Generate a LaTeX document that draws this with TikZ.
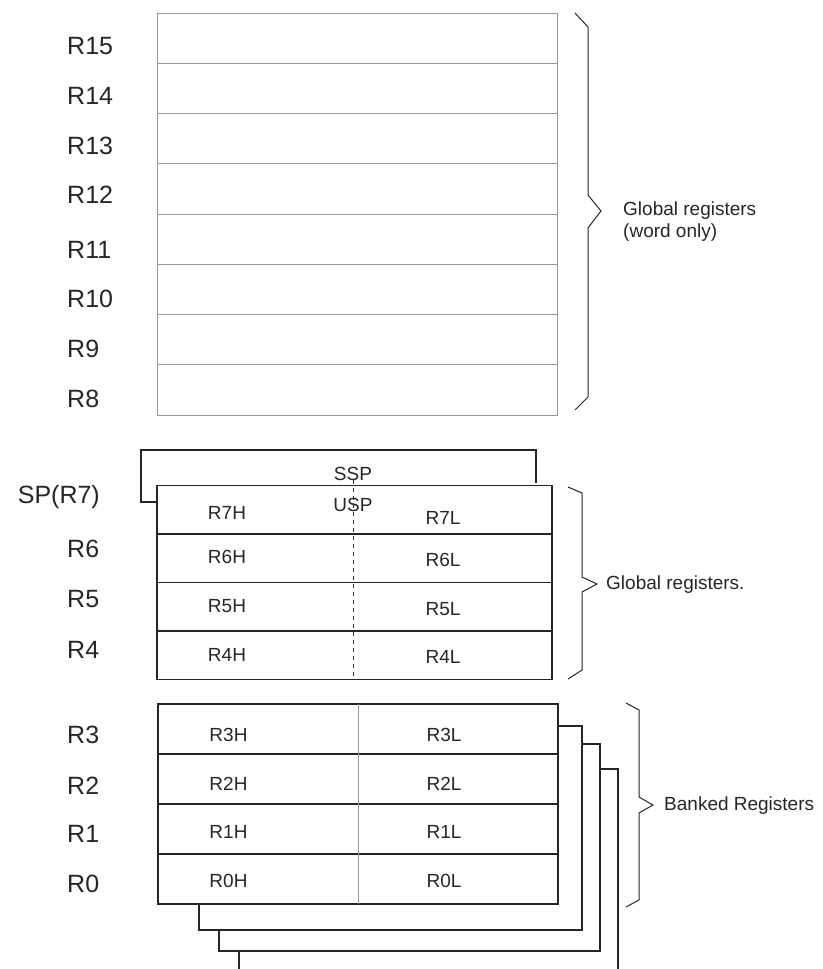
\documentclass[tikz,border=0pt]{standalone}
\usepackage{fontspec}
\setmainfont{Liberation Sans}
\begin{document}
\begin{tikzpicture}[x=1pt,y=-1pt,
  grayrow/.style={draw=black!40,line width=1pt,minimum width=400pt,minimum height=50.25pt,inner sep=0pt,outer sep=0pt},
  blkrow/.style={draw=black!85,line width=1.1pt,minimum width=395pt,minimum height=48.5pt,inner sep=0pt,outer sep=0pt},
  bnkrow/.style={draw=black!85,line width=1.1pt,minimum width=400pt,minimum height=50pt,inner sep=0pt,outer sep=0pt},
  reglbl/.style={anchor=west,inner sep=0pt,font=\fontsize{25}{28}\selectfont,text=black!85},
  celltxt/.style={inner sep=0pt,font=\fontsize{19}{22}\selectfont,text=black!85},
  bracetxt/.style={anchor=west,inner sep=0pt,align=left,font=\fontsize{19}{22}\selectfont,text=black!85},
  bracepath/.style={draw=black!85,line width=1pt},
  stackline/.style={draw=black!85,line width=1.1pt}]
\useasboundingbox (0,0) rectangle (822,969);
\clip (0,0) rectangle (822,969);
\fill[white] (0,0) rectangle (822,969);

% ---- top block R15..R8
\foreach \n [count=\i from 0] in {15,14,13,12,11,10,9,8}{
  \node[grayrow] (t\n) at (357.5,{13+50.25*\i+25.125}) {};
}
\node[reglbl] (l15) at (67,46) {R15};
\node[reglbl] (l14) at (67,96) {R14};
\node[reglbl] (l13) at (67,146) {R13};
\node[reglbl] (l12) at (67,195) {R12};
\node[reglbl] (l11) at (67,250) {R11};
\node[reglbl] (l10) at (67,299) {R10};
\node[reglbl] (l9) at (67,349) {R9};
\node[reglbl] (l8) at (67,399) {R8};

\path[bracepath] (575,13) -- (588,27) -- (588,195) -- (601,211) -- (588,228) -- (588,397) -- (575,410);
\node[bracetxt] (gw) at (623,222) {Global registers\\(word only)};

% ---- middle block R7..R4
\node[blkrow] (m7) at (354.5,509.75) {};
\node[blkrow] (m6) at (354.5,558.25) {};
\node[blkrow] (m5) at (354.5,606.75) {};
\node[blkrow] (m4) at (354.5,655.25) {};
\coordinate (sspL) at (141,450);
\coordinate (sspR) at (536,450);
\path[stackline] (m7.north west |- 0,502) -- (sspL |- 0,502) -- (sspL) -- (sspR) -- (sspR |- 0,483);
\node[celltxt] (ssp) at (353,473.5) {SSP};
\node[celltxt] (usp) at (353,504.5) {USP};
\coordinate (dtop) at (353,480);
\draw[black!85,line width=1pt,dash pattern=on 4pt off 4pt] (dtop) -- (dtop |- m4.south);

\node[celltxt] (r7h) at (227,512.5) {R7H};
\node[celltxt] (r7l) at (443,517.5) {R7L};
\node[celltxt] (r6h) at (227,557) {R6H};
\node[celltxt] (r6l) at (443,560) {R6L};
\node[celltxt] (r5h) at (227,606) {R5H};
\node[celltxt] (r5l) at (443,609) {R5L};
\node[celltxt] (r4h) at (227,655) {R4H};
\node[celltxt] (r4l) at (443,657) {R4L};

\node[reglbl,anchor=east] (l7) at (100,497) {SP(R7)};
\node[reglbl] (l6) at (67,549) {R6};
\node[reglbl] (l5) at (67,599) {R5};
\node[reglbl] (l4) at (67,650) {R4};

\path[bracepath] (568,487) -- (582,493) -- (582,577) -- (597,584) -- (582,592) -- (582,670) -- (568,679);
\node[bracetxt] (gr) at (606,585) {Global registers.};

% ---- bottom block R3..R0 (banked)
\node[bnkrow] (b3) at (358,729) {};
\node[bnkrow] (b2) at (358,779) {};
\node[bnkrow] (b1) at (358,829) {};
\node[bnkrow] (b0) at (358,879) {};
\draw[black!40,line width=1pt] (b3.north) -- (b0.south);

\node[celltxt] (r3h) at (228.5,734.5) {R3H};
\node[celltxt] (r3l) at (444,734.5) {R3L};
\node[celltxt] (r2h) at (228.5,783.5) {R2H};
\node[celltxt] (r2l) at (444,783.5) {R2L};
\node[celltxt] (r1h) at (228.5,831.5) {R1H};
\node[celltxt] (r1l) at (444,831.5) {R1L};
\node[celltxt] (r0h) at (228.5,881) {R0H};
\node[celltxt] (r0l) at (444,881) {R0L};

\node[reglbl] (l3) at (67,735) {R3};
\node[reglbl] (l2) at (67,786) {R2};
\node[reglbl] (l1) at (67,834) {R1};
\node[reglbl] (l0) at (67,884) {R0};

% stacked banks behind
\coordinate (s1a) at (582,726);
\coordinate (s1b) at (199,930);
\coordinate (s2a) at (600,744);
\coordinate (s2b) at (219,951);
\coordinate (s3a) at (618,769);
\coordinate (s3b) at (239,975);
\path[stackline] (b3.east |- s1a) -- (s1a) -- (s1a |- s1b) -- (s1b) -- (s1b |- b0.south);
\path[stackline] (s1a |- s2a) -- (s2a) -- (s2a |- s2b) -- (s2b) -- (s2b |- s1b);
\path[stackline] (s2a |- s3a) -- (s3a) -- (s3a |- s3b) -- (s3b) -- (s3b |- s2b);

\path[bracepath] (626,703) -- (639,710) -- (639,797) -- (653,805) -- (639,813) -- (639,900) -- (626,907);
\node[bracetxt] (bk) at (664,805.5) {Banked Registers};
\end{tikzpicture}
\end{document}
